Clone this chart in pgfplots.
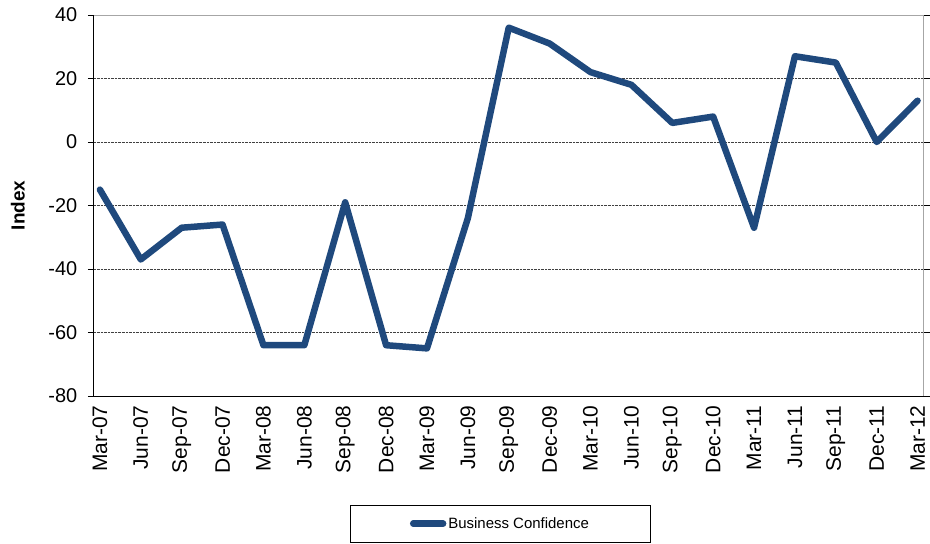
\documentclass[border=0pt]{standalone}
\usepackage{pgfplots}
\pgfplotsset{compat=1.18}
\usepackage{fontspec}
\setmainfont{Liberation Sans}
\definecolor{bcblue}{RGB}{31,73,125}
\begin{document}
\begin{tikzpicture}[x=1pt,y=1pt]
\begin{axis}[
  at={(0,0)}, anchor=south west,
  scale only axis,
  width=832pt, height=382pt,
  xmin=-0.15, xmax=20.15,
  ymin=-80, ymax=40,
  ytick={-80,-60,-40,-20,0,20,40},
  xtick={0,...,20},
  xticklabels={Mar-07,Jun-07,Sep-07,Dec-07,Mar-08,Jun-08,Sep-08,Dec-08,Mar-09,Jun-09,Sep-09,Dec-09,Mar-10,Jun-10,Sep-10,Dec-10,Mar-11,Jun-11,Sep-11,Dec-11,Mar-12},
  x tick label style={rotate=90, anchor=east, font=\fontsize{21}{24}\selectfont},
  y tick label style={font=\fontsize{20}{24}\selectfont, xshift=-7pt},
  /pgf/number format/assume math mode=true,
  ylabel={Index},
  every axis y label/.style={at={(rel axis cs:0,0.5)}, xshift=-76pt, rotate=90, anchor=center, font=\fontsize{19}{22}\selectfont\bfseries},
  tick align=outside,
  major tick length=6pt,
  xtick style={draw=none},
  ytick style={draw=black, line width=0.6pt},
  ymajorgrids,
  major grid style={black!75, densely dotted, line width=0.6pt},
  axis line style={draw=gray!70, line width=0.8pt},
  clip=false,
  legend style={at={(0.49,-0.335)}, anchor=center, draw=black, line width=0.6pt,
    font=\fontsize{15}{18}\selectfont, inner xsep=60pt, inner ysep=10pt,
    legend cell align=left},
  legend image code/.code={\draw[#1, line cap=round] (0pt,0pt) -- (30pt,0pt);},
]
\addplot[bcblue, line width=6.5pt, line join=round, line cap=round] coordinates {
(0,-15) (1,-37) (2,-27) (3,-26) (4,-64) (5,-64) (6,-19) (7,-64) (8,-65) (9,-24)
(10,36) (11,31) (12,22) (13,18) (14,6) (15,8) (16,-27) (17,27) (18,25) (19,0) (20,13)
};
\addlegendentry{Business Confidence}
\draw[black, line width=0.8pt] (rel axis cs:0,1) -- (rel axis cs:0,0) -- (rel axis cs:1,0);
\end{axis}
\path (-94,-148) rectangle (836,397);
\end{tikzpicture}
\end{document}
